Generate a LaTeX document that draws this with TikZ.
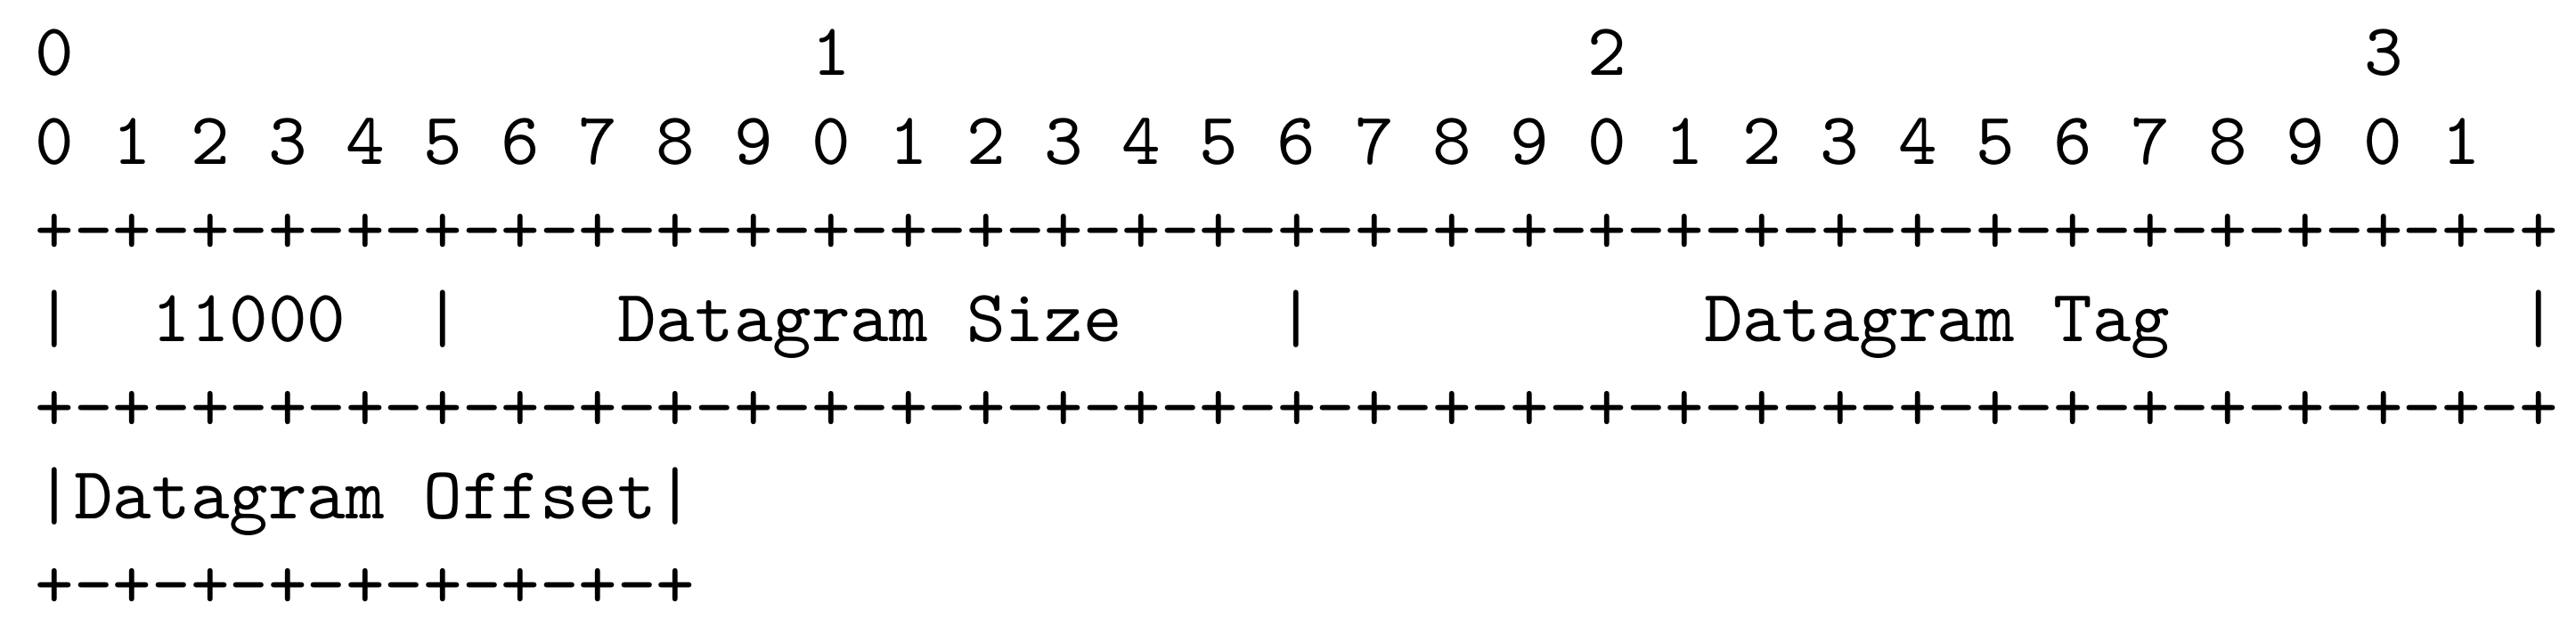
\documentclass[tikz,border=0pt]{standalone}
\usepackage{tikz}
\usetikzlibrary{positioning}

\newcommand{\colgap}[1]{\hspace*{#1\fontdimen2\font}}

\begin{document}
\begin{tikzpicture}[x=5.25pt, y=-12pt,
        row/.style={anchor=base west, inner sep=0pt, font=\ttfamily}]
            \useasboundingbox (-0.876, -0.853) rectangle (65.5, 6.297);

            \node[row] (tens) at (0, 0) {0\colgap{19}1\colgap{19}2\colgap{19}3};
            \node[row] (units) at (0, 1) {0 1 2 3 4 5 6 7 8 9 0 1 2 3 4 5 6 7 8 9 0 1 2 3 4 5 6 7 8 9 0 1};
            \node[row] (rule1) at (0, 2) {+-+-+-+-+-+-+-+-+-+-+-+-+-+-+-+-+-+-+-+-+-+-+-+-+-+-+-+-+-+-+-+-+};
            \node[row] (fields1) at (0, 3) {|\colgap{2}11000\colgap{2}|\colgap{4}Datagram Size\colgap{4}|\colgap{10}Datagram Tag\colgap{9}|};
            \node[row] (rule2) at (0, 4) {+-+-+-+-+-+-+-+-+-+-+-+-+-+-+-+-+-+-+-+-+-+-+-+-+-+-+-+-+-+-+-+-+};
            \node[row] (fields2) at (0, 5) {|Datagram Offset|};
            \node[row] (rule3) at (0, 6) {+-+-+-+-+-+-+-+-+};
        \end{tikzpicture}
\end{document}
